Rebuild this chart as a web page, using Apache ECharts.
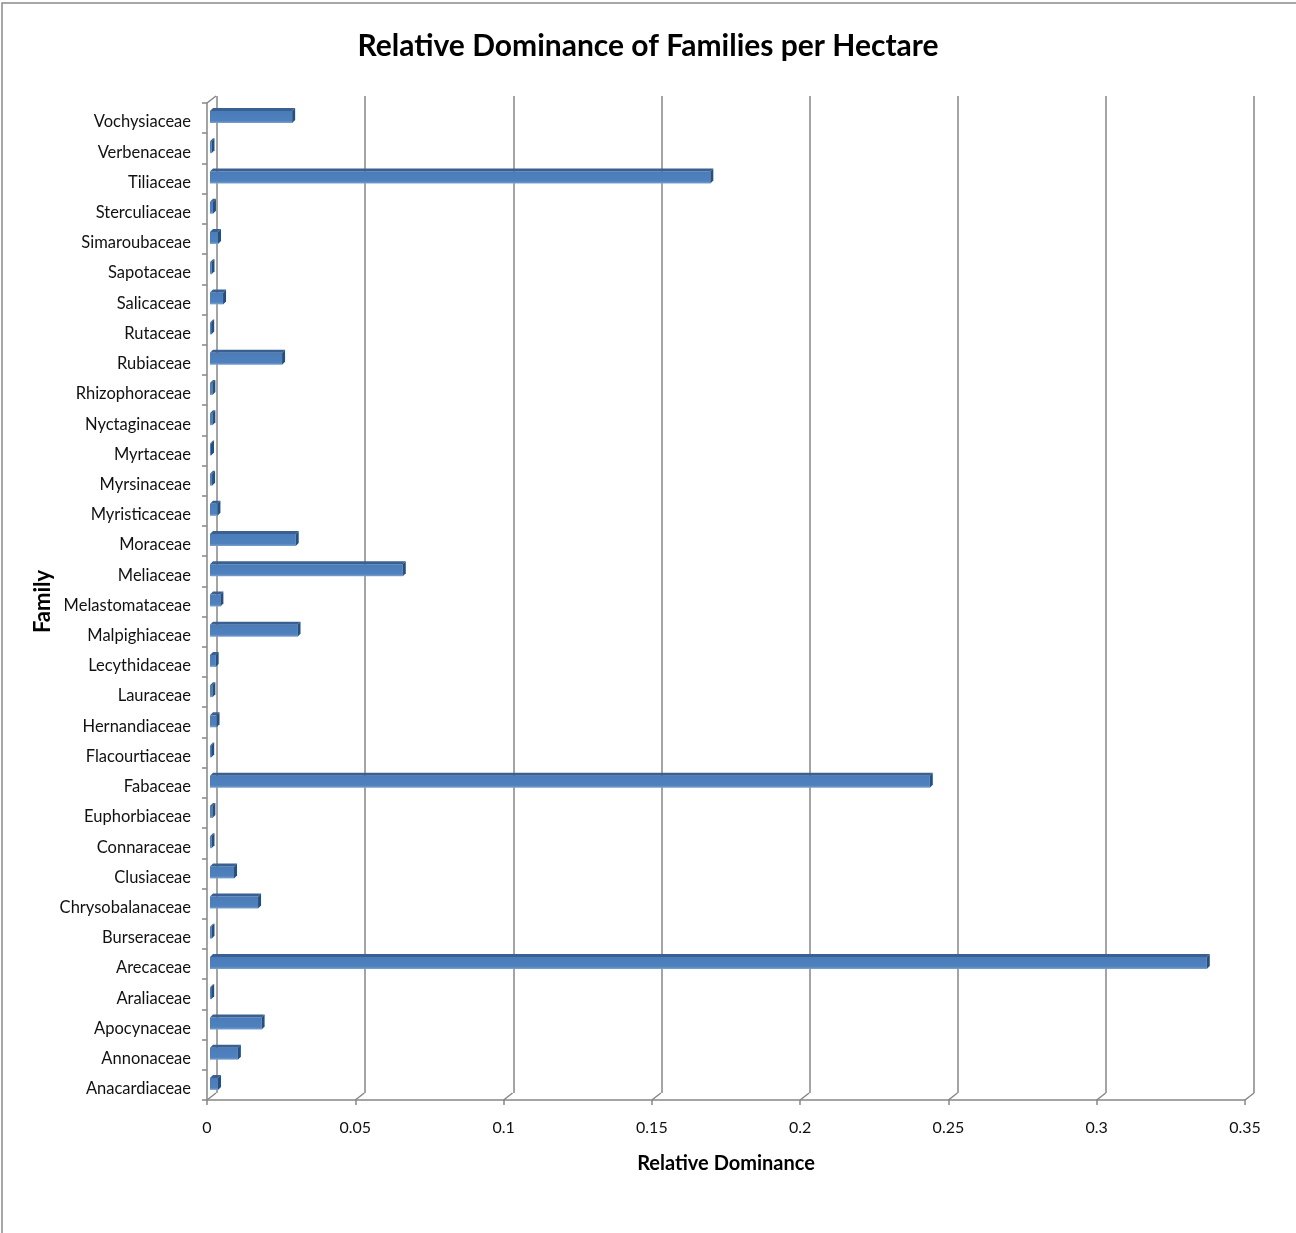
<!DOCTYPE html>
<html>
<head>
<meta charset="utf-8">
<script src="https://cdn.jsdelivr.net/npm/echarts@6/dist/echarts.min.js"></script>
<style>
  html, body { margin: 0; padding: 0; background: #fff; }
  #chart { width: 1296px; height: 1233px; }
</style>
</head>
<body>
<div id="chart"></div>
<script>
'use strict'

// families, bottom to top (category axis starts at the bottom)
var families = ['Anacardiaceae', 'Annonaceae', 'Apocynaceae', 'Araliaceae', 'Arecaceae',
    'Burseraceae', 'Chrysobalanaceae', 'Clusiaceae', 'Connaraceae', 'Euphorbiaceae',
    'Fabaceae', 'Flacourtiaceae', 'Hernandiaceae', 'Lauraceae', 'Lecythidaceae',
    'Malpighiaceae', 'Melastomataceae', 'Meliaceae', 'Moraceae', 'Myristicaceae',
    'Myrsinaceae', 'Myrtaceae', 'Nyctaginaceae', 'Rhizophoraceae', 'Rubiaceae',
    'Rutaceae', 'Salicaceae', 'Sapotaceae', 'Simaroubaceae', 'Sterculiaceae',
    'Tiliaceae', 'Verbenaceae', 'Vochysiaceae'];

var dominance = [0.0027, 0.0094, 0.0174, 0.0004, 0.3361,
    0.0005, 0.0162, 0.0081, 0.0005, 0.0008,
    0.2427, 0.0004, 0.0022, 0.0008, 0.0019,
    0.0295, 0.0035, 0.0650, 0.0289, 0.0025,
    0.0007, 0.0003, 0.0008, 0.0008, 0.0243,
    0.0004, 0.0044, 0.0005, 0.0027, 0.0010,
    0.1687, 0.0005, 0.0277];

var xTicks = [0, 0.05, 0.1, 0.15, 0.2, 0.25, 0.3, 0.35];

var textFont = 'Lato';
var axisGray = '#868686';

// 3d-ish bar: front face, top face and right side
function renderBar(params, api) {
    var v = api.value(0);
    var c = api.value(1);
    var start = api.coord([0, c]);
    var end = api.coord([v, c]);
    var d = 3;
    var h = 12;
    var x0 = start[0] + 3;
    var x1 = Math.max(end[0] + 3, x0 + 1);
    var yc = start[1] - 1;
    var top = yc - h / 2;
    var bot = yc + h / 2;
    return {
        type: 'group',
        children: [
            { type: 'rect', shape: { x: x0, y: top, width: x1 - x0, height: h },
              style: { fill: new echarts.graphic.LinearGradient(0, 0, 0, 1, [
                  { offset: 0, color: '#4a7cba' }, { offset: 0.8, color: '#4f81bd' }, { offset: 1, color: '#7da2d0' }]) } },
            { type: 'polygon', shape: { points: [[x0, top], [x0 + d, top - d], [x1 + d, top - d], [x1, top]] },
              style: { fill: '#3a6091' } },
            { type: 'polygon', shape: { points: [[x1, top], [x1 + d, top - d], [x1 + d, bot - d], [x1, bot]] },
              style: { fill: '#2c4d76' } }
        ]
    };
}

// slanted links from the front axis ticks to the back wall
function renderTickLink(params, api) {
    var p = api.coord([api.value(0), 0]);
    var band = api.size([0, 1])[1];
    var y = p[1] + band / 2;
    return {
        type: 'line',
        shape: { x1: p[0], y1: y, x2: p[0] + 9, y2: y - 7 },
        style: { stroke: axisGray, lineWidth: 1.5 }
    };
}

var myChart = echarts.init(document.getElementById('chart'));
var option = {
    backgroundColor: '#fff',
    animation: false,
    title: {
        text: 'Relative Dominance of Families per Hectare',
        left: 'center',
        top: 26,
        textStyle: { fontFamily: textFont, fontSize: 30, fontWeight: 'bold', color: '#000' }
    },
    grid: [
        { left: 217, right: 42, top: 96, bottom: 140 },
        { left: 207, right: 51, top: 103, bottom: 133 },
        // labels only, nudged down a little
        { left: 207, right: 51, top: 107, bottom: 129 }
    ],
    xAxis: [
        {
            gridIndex: 0, type: 'value', min: 0, max: 0.35, interval: 0.05,
            axisLine: { show: false }, axisTick: { show: false }, axisLabel: { show: false },
            splitLine: { show: true, lineStyle: { color: axisGray, width: 1.5 } }
        },
        {
            gridIndex: 1, type: 'value', min: 0, max: 0.35, interval: 0.05,
            name: 'Relative Dominance', nameLocation: 'middle', nameGap: 54,
            nameTextStyle: { fontFamily: textFont, fontSize: 20, fontWeight: 'bold', color: '#000' },
            axisLine: { show: true, lineStyle: { color: axisGray, width: 1.5 } },
            axisTick: { show: true, length: 5, lineStyle: { color: axisGray, width: 1.5 } },
            axisLabel: { fontFamily: textFont, fontSize: 16, color: '#111', margin: 20,
                formatter: function (v) { return String(+v.toFixed(2)); } },
            splitLine: { show: false }
        },
        {
            gridIndex: 2, type: 'value', min: 0, max: 0.35, show: false
        }
    ],
    yAxis: [
        {
            gridIndex: 0, type: 'category', data: families,
            axisLine: { show: false }, axisTick: { show: false }, axisLabel: { show: false },
            splitLine: { show: false }
        },
        {
            gridIndex: 1, type: 'category', data: families,
            name: 'Family', nameLocation: 'middle', nameGap: 153, nameRotate: 90,
            nameTextStyle: { fontFamily: textFont, fontSize: 22, fontWeight: 'bold', color: '#000' },
            axisLine: { show: true, lineStyle: { color: axisGray, width: 1.5 } },
            axisTick: { show: true, length: 5, lineStyle: { color: axisGray, width: 1.5 } },
            axisLabel: { show: false },
            splitLine: { show: false }
        },
        {
            gridIndex: 2, type: 'category', data: families,
            axisLine: { show: false }, axisTick: { show: false },
            axisLabel: { fontFamily: textFont, fontSize: 16.5, color: '#111', margin: 16 },
            splitLine: { show: false }
        }
    ],
    graphic: [
        { type: 'rect', silent: true, shape: { x: 2, y: 3, width: 1310, height: 1250 },
          style: { fill: 'none', stroke: '#8a8a8a', lineWidth: 1.5 } },
        { type: 'line', silent: true, shape: { x1: 207, y1: 103, x2: 216, y2: 96 },
          style: { stroke: axisGray, lineWidth: 1.5 } }
    ],
    series: [
        {
            type: 'custom', name: 'ticks', xAxisIndex: 1, yAxisIndex: 1, clip: false,
            renderItem: renderTickLink,
            data: xTicks.map(function (t) { return [t]; }),
            silent: true, z: 1
        },
        {
            type: 'custom', name: 'Relative Dominance', xAxisIndex: 1, yAxisIndex: 1, clip: false,
            renderItem: renderBar,
            encode: { x: 0, y: 1 },
            data: dominance.map(function (v, i) { return [v, i]; }),
            z: 3
        }
    ]
};
myChart.setOption(option);
</script>
</body>
</html>
